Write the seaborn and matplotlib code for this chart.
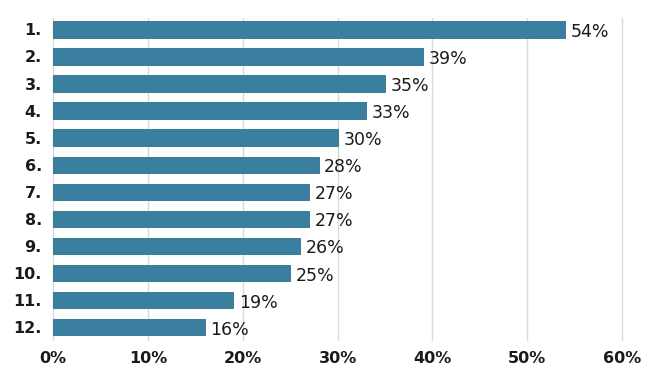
import matplotlib
matplotlib.use("Agg")
import matplotlib.pyplot as plt
import seaborn as sns
import pandas as pd
from matplotlib.ticker import FuncFormatter

categories = ["1.", "2.", "3.", "4.", "5.", "6.", "7.", "8.", "9.", "10.", "11.", "12."]
values = [54, 39, 35, 33, 30, 28, 27, 27, 26, 25, 19, 16]
x_ticks = [0, 10, 20, 30, 40, 50, 60]

df = pd.DataFrame({"cat": categories, "val": values})

sns.set_theme(style="white")
plt.rcParams['font.family'] = ['DejaVu Sans']

fig = plt.figure(figsize=(6.5, 3.76), dpi=100)
ax = fig.add_axes([0.0815, 0.096, 0.8755, 0.856])

sns.barplot(data=df, x="val", y="cat", orient="h", color="#3a7f9f",
            saturation=1, width=0.6, ax=ax, zorder=3,
            edgecolor="#2f6f8c", linewidth=0.6)

ax.set_xlim(0, 60)
ax.set_ylim(11.48, -0.42)
ax.set_xticks(x_ticks)
ax.xaxis.set_major_formatter(FuncFormatter(lambda v, p: f"{int(v)}%"))
ax.grid(axis="x", color="#d9d9d9", linewidth=1, zorder=0)
ax.grid(axis="y", visible=False)
for gl in ax.xaxis.get_gridlines():
    gl.set_clip_on(False)
for s in ax.spines.values():
    s.set_visible(False)
ax.set_xlabel("")
ax.set_ylabel("")
ax.tick_params(axis="both", length=0, labelsize=11.5, colors="#1a1a1a")
ax.tick_params(axis="x", pad=8)
ax.tick_params(axis="y", pad=8)
for lbl in ax.get_xticklabels() + ax.get_yticklabels():
    lbl.set_fontweight("bold")

for i, v in enumerate(values):
    ax.text(v + 0.6, i + 0.1, f"{v}%", va="center", ha="left",
            fontsize=12.5, color="#1a1a1a")

fig.savefig("out.png", dpi=100)
